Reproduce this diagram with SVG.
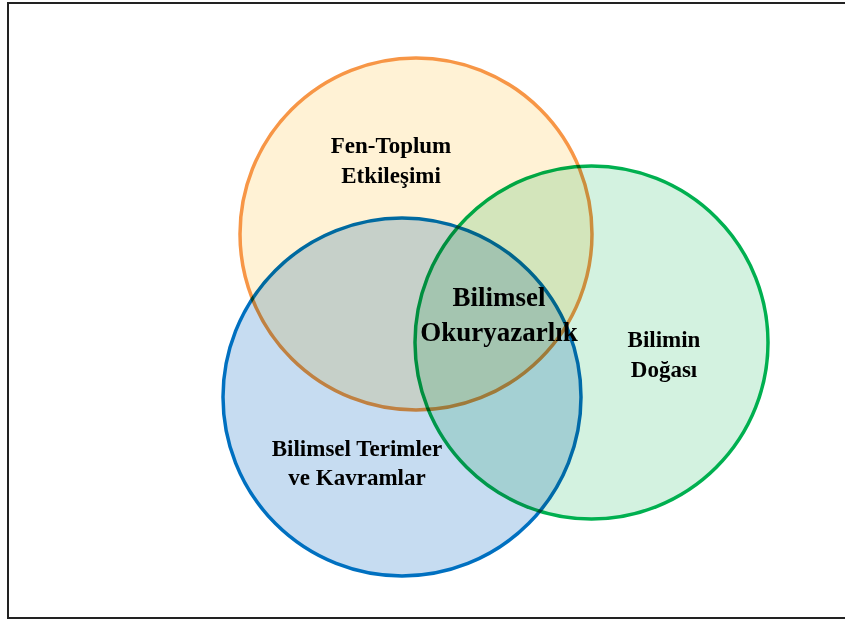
<svg xmlns="http://www.w3.org/2000/svg" width="845" height="621" viewBox="0 0 845 621">
<style>
.lbl{font-family:"Liberation Serif","Times New Roman",serif;font-weight:bold;font-size:23px;fill:#000;text-anchor:middle}
.big{font-size:27px}
.c{stroke-width:3.5;mix-blend-mode:multiply}
</style>
<rect width="845" height="621" fill="#fff"/>
<rect x="8" y="3" width="850" height="615" fill="none" stroke="#222" stroke-width="2"/>
<g id="fen-toplum">
<circle class="c" cx="416" cy="234" r="176" fill="#FFF2D5" stroke="#F79646"/>
</g>
<g id="terimler">
<circle class="c" cx="402" cy="397" r="179" fill="#C6DCF1" stroke="#0070C0"/>
</g>
<g id="dogasi">
<circle class="c" cx="591.5" cy="342.5" r="176.5" fill="#D3F2E0" stroke="#00B050"/>
</g>
<g id="labels">
<text class="lbl" x="391" y="153">Fen-Toplum</text>
<text class="lbl" x="391" y="183">Etkileşimi</text>
<text class="lbl big" x="499" y="306">Bilimsel</text>
<text class="lbl big" x="499" y="341">Okuryazarlık</text>
<text class="lbl" x="664" y="347">Bilimin</text>
<text class="lbl" x="664" y="377">Doğası</text>
<text class="lbl" x="357" y="456">Bilimsel Terimler</text>
<text class="lbl" x="357" y="485">ve Kavramlar</text>
</g>
<g id="connectors"></g>
</svg>
